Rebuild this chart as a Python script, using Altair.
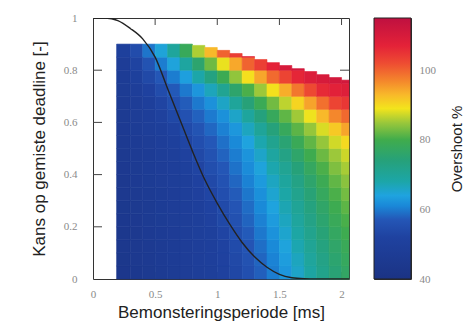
import altair as alt
import pandas as pd

# ---------------- data ----------------
X_TITLE = "Bemonsteringsperiode [ms]"
Y_TITLE = "Kans op gemiste deadline [-]"
C_TITLE = "Overshoot %"

X_TICKS = [0, 0.5, 1, 1.5, 2]
Y_TICKS = [0, 0.2, 0.4, 0.6, 0.8, 1]
C_TICKS = [40, 60, 80, 100]

# heat-map cell edges (sampling period [ms] and miss probability)
X_EDGES = [0.19, 0.3, 0.4, 0.5, 0.6, 0.7, 0.8, 0.9, 1.0, 1.1, 1.2, 1.3,
           1.4, 1.5, 1.6, 1.7, 1.8, 1.9, 2.0, 2.06]
Y_EDGES = [0.0, 0.05, 0.1, 0.15, 0.2, 0.25, 0.3, 0.35, 0.4, 0.45, 0.5,
           0.55, 0.6, 0.65, 0.7, 0.75, 0.8, 0.85, 0.9]
# upper limit of the coloured region per column (staircase edge)
COL_TOPS = [0.9, 0.9, 0.9, 0.9, 0.9, 0.9, 0.895, 0.887, 0.876, 0.864,
            0.852, 0.841, 0.829, 0.818, 0.806, 0.795, 0.783, 0.772, 0.762]

# overshoot [%], one row per Y band (bottom -> top), one value per X column
OVERSHOOT = [
    [43.4, 44.3, 45.2, 46.1, 47.0, 47.9, 48.7, 49.6, 51.2, 53.2, 55.3, 57.7, 60.1, 62.6, 65.7, 68.8, 71.8, 74.6, 76.9],
    [43.6, 44.5, 45.4, 46.3, 47.1, 48.0, 48.9, 49.8, 51.5, 53.7, 55.9, 58.2, 60.6, 63.3, 66.4, 69.6, 72.5, 75.4, 77.6],
    [43.8, 44.7, 45.6, 46.4, 47.3, 48.2, 49.1, 49.9, 52.0, 54.2, 56.5, 58.9, 61.2, 64.2, 67.4, 70.5, 73.4, 76.2, 78.5],
    [44.0, 44.9, 45.8, 46.7, 47.5, 48.4, 49.3, 50.4, 52.6, 54.9, 57.3, 59.7, 62.1, 65.3, 68.5, 71.5, 74.4, 77.2, 79.5],
    [44.2, 45.1, 46.0, 46.9, 47.8, 48.7, 49.5, 51.1, 53.4, 55.7, 58.1, 60.4, 63.1, 66.3, 69.5, 72.5, 75.4, 78.3, 80.5],
    [44.4, 45.3, 46.2, 47.1, 48.0, 48.9, 49.8, 51.9, 54.1, 56.5, 58.8, 61.2, 64.1, 67.3, 70.4, 73.4, 76.4, 79.4, 81.6],
    [44.7, 45.6, 46.5, 47.4, 48.3, 49.3, 50.5, 52.8, 55.1, 57.4, 59.6, 61.9, 65.1, 68.3, 71.5, 74.5, 77.6, 80.6, 82.8],
    [44.9, 45.8, 46.8, 47.7, 48.7, 49.6, 51.4, 53.8, 56.1, 58.3, 60.5, 63.0, 66.2, 69.4, 72.6, 75.8, 79.0, 81.8, 84.0],
    [45.1, 46.1, 47.1, 48.1, 49.1, 50.1, 52.5, 54.9, 57.0, 59.2, 61.4, 64.3, 67.6, 70.8, 74.1, 77.4, 80.6, 83.4, 85.5],
    [45.3, 46.4, 47.4, 48.5, 49.5, 51.3, 53.7, 55.9, 58.0, 60.1, 62.3, 65.7, 69.1, 72.6, 76.1, 79.6, 82.4, 85.0, 87.2],
    [45.6, 46.7, 47.8, 49.0, 50.2, 52.7, 55.1, 57.1, 59.1, 61.2, 64.1, 67.6, 71.2, 74.9, 78.6, 81.8, 84.6, 87.4, 90.0],
    [45.8, 47.1, 48.4, 49.6, 51.7, 54.2, 56.4, 58.4, 60.4, 62.7, 66.3, 69.9, 73.9, 77.9, 81.5, 84.6, 87.8, 91.5, 94.5],
    [46.1, 47.6, 49.0, 50.8, 53.4, 55.8, 57.9, 59.9, 62.0, 65.7, 69.4, 73.6, 77.9, 81.7, 85.2, 88.8, 92.9, 96.9, 99.5],
    [46.4, 48.1, 49.8, 52.5, 55.3, 57.5, 59.8, 62.0, 65.9, 69.8, 74.2, 78.7, 82.7, 86.5, 90.5, 94.7, 98.9, 102.9, 104.5],
    [46.8, 48.9, 51.5, 54.6, 57.2, 59.8, 62.5, 66.6, 70.9, 75.8, 80.6, 85.0, 89.3, 93.8, 98.3, 102.4, 106.0, 107.5, 108.5],
    [47.4, 50.1, 53.7, 56.9, 60.1, 63.6, 67.9, 73.1, 79.1, 84.4, 89.5, 94.4, 99.4, 103.0, 106.5, 109.0, 110.0, 111.0, 111.0],
    [48.2, 52.2, 56.2, 60.1, 64.3, 69.0, 75.6, 82.5, 88.6, 94.3, 100.0, 103.5, 107.0, 110.0, 111.0, 111.0, 111.0, 111.0, 111.0],
    [50.2, 54.6, 59.5, 64.5, 69.6, 78.2, 85.8, 92.9, 100.0, 103.8, 107.6, 110.0, 111.0, 111.0, 111.0, 111.0, 111.0, 111.0, 111.0],
]

# black curve: probability of a missed deadline vs sampling period
CURVE_X = [0, 0.1, 0.2, 0.3, 0.4, 0.5, 0.6, 0.7, 0.8, 0.9, 1.0, 1.1, 1.2,
           1.3, 1.4, 1.5, 1.6, 1.7, 1.8, 2.06]
CURVE_Y = [1, 1, 0.99, 0.96, 0.92, 0.85, 0.73, 0.61, 0.49, 0.38, 0.29,
           0.21, 0.14, 0.085, 0.045, 0.018, 0.005, 0.001, 0, 0]

# colour map (jet-like, as printed)
STOP_VALUES = [40, 52, 57, 61, 64, 68, 74, 80, 85, 89, 93, 97, 102, 107, 115]
STOP_COLORS = ["#1b3384", "#1f42a0", "#2456b6", "#1a88d8", "#1fa3df",
               "#1ca6a8", "#26a17a", "#40ac4c", "#9cc83a", "#f3e41c",
               "#f8b82a", "#f4862c", "#ee4c32", "#e42238", "#bf1040"]

# ---------------- build tables ----------------
cells = []
for j in range(len(Y_EDGES) - 1):
    for i in range(len(X_EDGES) - 1):
        lo = Y_EDGES[j]
        hi = min(Y_EDGES[j + 1], COL_TOPS[i])
        if hi <= lo:
            continue
        cells.append({"x": X_EDGES[i], "x2": X_EDGES[i + 1], "y": lo, "y2": hi,
                      "v": OVERSHOOT[j][i]})
heat_df = pd.DataFrame(cells)
curve_df = pd.DataFrame({"x": CURVE_X, "y": CURVE_Y})
xt_df = pd.DataFrame({"x": X_TICKS[1:]})
yt_df = pd.DataFrame({"y": Y_TICKS[1:-1]})

W, H = 256, 261
TL = 7  # inward tick length (px)

x_scale = alt.Scale(domain=[0, 2.06], nice=False, zero=False)
y_scale = alt.Scale(domain=[0, 1], nice=False, zero=False)
c_dom = [STOP_VALUES[0], STOP_VALUES[-1]]
color_scale = alt.Scale(domain=STOP_VALUES, range=STOP_COLORS,
                        interpolate="rgb", clamp=True)

X_AXIS = alt.Axis(values=X_TICKS, format=".1~f", labelFlush=False,
                  labelPadding=9, titlePadding=5, titleFontSize=17)
Y_AXIS = alt.Axis(values=Y_TICKS, format=".1~f", labelPadding=16,
                  titlePadding=15)


def X(field):
    return alt.X(field, scale=x_scale, axis=X_AXIS, title=X_TITLE)


def Y(field):
    return alt.Y(field, scale=y_scale, axis=Y_AXIS, title=Y_TITLE)


tick_col = "#444"
bottom_ticks = alt.Chart(xt_df).mark_rule(color=tick_col).encode(
    x=X("x:Q"), y=alt.value(H), y2=alt.value(H - TL))
top_ticks = alt.Chart(xt_df).mark_rule(color=tick_col).encode(
    x=X("x:Q"), y=alt.value(0), y2=alt.value(TL))
left_ticks = alt.Chart(yt_df).mark_rule(color=tick_col).encode(
    y=Y("y:Q"), x=alt.value(0), x2=alt.value(TL + 2))
right_ticks = alt.Chart(yt_df).mark_rule(color=tick_col).encode(
    y=Y("y:Q"), x=alt.value(W), x2=alt.value(W - TL - 2))

heat = alt.Chart(heat_df).mark_rect(strokeWidth=0.6).encode(
    x=X("x:Q"), x2="x2:Q",
    y=Y("y:Q"), y2="y2:Q",
    color=alt.Color("v:Q", scale=color_scale, legend=None),
    stroke=alt.Stroke("v:Q", scale=color_scale, legend=None),
)

curve = alt.Chart(curve_df).mark_line(color="#222", strokeWidth=1.4,
                                      interpolate="monotone", clip=True).encode(
    x=X("x:Q"), y=Y("y:Q"),
)

main = alt.layer(bottom_ticks, top_ticks, left_ticks, right_ticks, heat, curve
                 ).properties(width=W, height=H)

span = c_dom[1] - c_dom[0]
grad = alt.LinearGradient(
    gradient="linear",
    stops=[alt.GradientStop(offset=(v - c_dom[0]) / span, color=c)
           for v, c in zip(STOP_VALUES, STOP_COLORS)],
    x1=0, x2=0, y1=1, y2=0)

cb_df = pd.DataFrame({"lo": [c_dom[0]], "hi": [c_dom[1]]})
cbar = alt.Chart(cb_df).mark_rect(color=grad, stroke="#222", strokeWidth=1).encode(
    y=alt.Y("lo:Q", scale=alt.Scale(domain=c_dom, nice=False, zero=False),
            axis=alt.Axis(orient="right", values=C_TICKS, format="d",
                          labelPadding=8, titlePadding=14, titleAngle=270,
                          titleBaseline="top", titleFontSize=15),
            title=C_TITLE),
    y2="hi:Q",
).properties(width=37, height=H)

chart = alt.hconcat(main, cbar, spacing=23).properties(
    padding={"left": 21, "top": 3, "right": 0, "bottom": 0},
    background="white",
).configure_view(stroke="#333", strokeWidth=1).configure_axis(
    domain=False, ticks=False, grid=False,
    labelFont="Liberation Serif", labelFontSize=11, labelColor="#8a8a8a",
    titleFont="Liberation Sans", titleFontSize=17, titleColor="#222",
    titleFontWeight="normal",
)

chart.save("out.html", embed_options={"renderer": "svg", "actions": False})
